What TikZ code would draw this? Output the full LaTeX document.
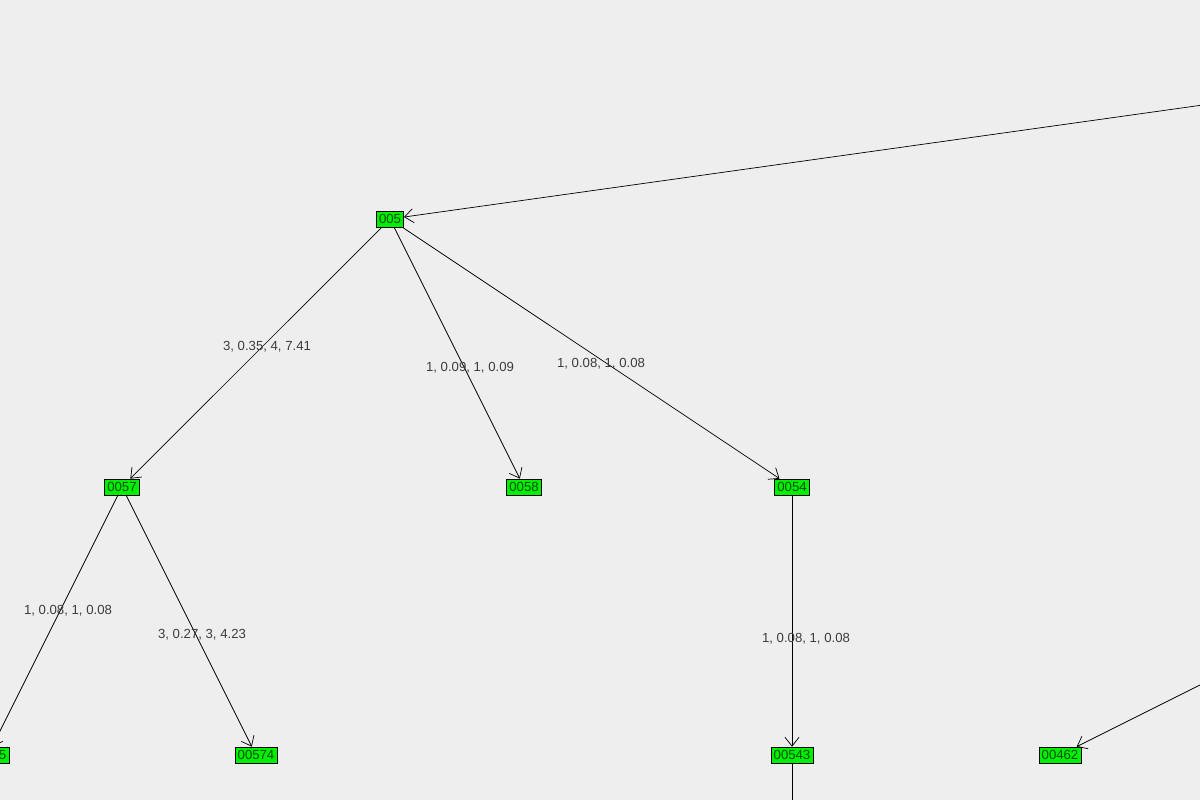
\documentclass[tikz,border=0pt]{standalone}
\usepackage{fontspec}
\setmainfont{Liberation Sans}
\usetikzlibrary{arrows.meta}
\definecolor{bggray}{RGB}{238,238,238}
\definecolor{nodegreen}{RGB}{0,238,0}
\definecolor{labelgray}{RGB}{60,60,60}
\begin{document}
\begin{tikzpicture}[x=0.02cm,y=-0.02cm]
        \fill[bggray] (0,0) rectangle (1200,800);
        \useasboundingbox (0,0) rectangle (1200,800);
        \clip (0,0) rectangle (1200,800);

        \begin{scope}[every node/.style={draw,fill=nodegreen,inner sep=1.5pt,minimum height=0.32cm,font=\fontsize{7.5}{8}\selectfont,text=black!70!green}]
            \node (n005) at (390,219) {005};
            \node (n0057) at (122,487) {0057};
            \node (n0058) at (524,487) {0058};
            \node (n0054) at (792,487) {0054};
            \node (n00575) at (-12,755) {00575};
            \node (n00574) at (256,755) {00574};
            \node (n00543) at (792,755) {00543};
            \node (n00462) at (1060,755) {00462};
        \end{scope}
        \coordinate (top) at (1210,104);
        \coordinate (right) at (1210,680);
        \coordinate (bottom) at (792,810);

        \begin{scope}[every node/.style={text=labelgray,font=\fontsize{7.5}{8}\selectfont},
                    every edge/.style={draw,-{Straight Barb[length=5pt,width=8pt]}}]
            \path (top) edge (n005);
            \path (right) edge (n00462);
            \path (n005) edge (n0057);
            \path (n005) edge (n0058);
            \path (n005) edge (n0054);
            \path (n0057) edge (n00575);
            \path (n0057) edge (n00574);
            \path (n0054) edge (n00543);
            \draw (n00543) -- (bottom);
            \node at (267,347) {3, 0.35, 4, 7.41};
            \node at (470,368) {1, 0.09, 1, 0.09};
            \node at (601,364) {1, 0.08, 1, 0.08};
            \node at (68,611) {1, 0.08, 1, 0.08};
            \node at (202,635) {3, 0.27, 3, 4.23};
            \node at (806,639) {1, 0.08, 1, 0.08};
        \end{scope}
    \end{tikzpicture}
\end{document}
